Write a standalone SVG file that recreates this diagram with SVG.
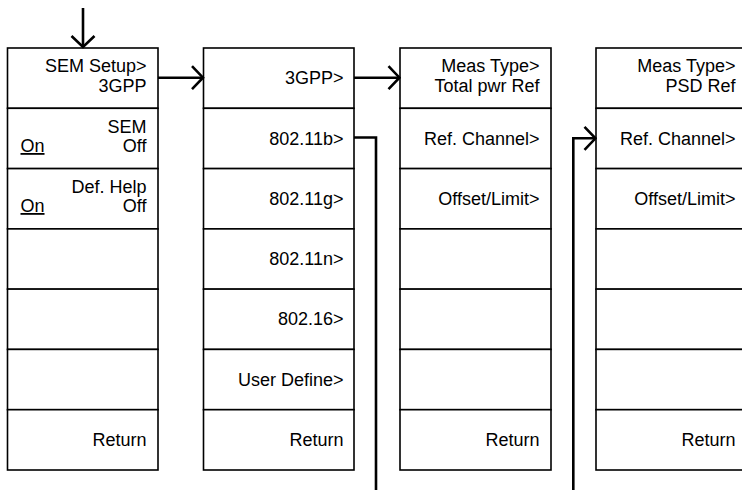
<svg xmlns="http://www.w3.org/2000/svg" width="742" height="490" viewBox="0 0 742 490">
<style>
.box{fill:#fff;stroke:#000;stroke-width:1.6}
.t{font-family:"Liberation Sans",Arial,sans-serif;font-size:18px;fill:#000}
.r{text-anchor:end}
.c{fill:none;stroke:#000;stroke-width:2.6}
</style>
<defs>
<marker id="arr" viewBox="0 0 14 26" refX="12.5" refY="13" markerWidth="14" markerHeight="26" orient="auto" markerUnits="userSpaceOnUse">
<path d="M1.5,1.5 L12.5,13 L1.5,24.5" fill="none" stroke="#000" stroke-width="2.6"/>
</marker>
</defs>
<g id="menu1">
<rect class="box" x="7.5" y="48" width="150.5" height="60.3"/>
<rect class="box" x="7.5" y="108.3" width="150.5" height="60.3"/>
<rect class="box" x="7.5" y="168.6" width="150.5" height="60.3"/>
<rect class="box" x="7.5" y="228.9" width="150.5" height="60.3"/>
<rect class="box" x="7.5" y="289.1" width="150.5" height="60.3"/>
<rect class="box" x="7.5" y="349.4" width="150.5" height="60.3"/>
<rect class="box" x="7.5" y="409.7" width="150.5" height="60.3"/>
<text class="t r" x="146.5" y="71.7">SEM Setup&gt;</text>
<text class="t r" x="146.5" y="92.3">3GPP</text>
<text class="t r" x="146.5" y="133.2">SEM</text>
<text class="t r" x="146.5" y="152">Off</text>
<text class="t" x="20.5" y="152" text-decoration="underline">On</text>
<text class="t r" x="146.5" y="193">Def. Help</text>
<text class="t r" x="146.5" y="212">Off</text>
<text class="t" x="20.5" y="212" text-decoration="underline">On</text>
<text class="t r" x="146.5" y="446">Return</text>
</g>
<g id="menu2">
<rect class="box" x="203.5" y="48" width="150.5" height="60.3"/>
<rect class="box" x="203.5" y="108.3" width="150.5" height="60.3"/>
<rect class="box" x="203.5" y="168.6" width="150.5" height="60.3"/>
<rect class="box" x="203.5" y="228.9" width="150.5" height="60.3"/>
<rect class="box" x="203.5" y="289.1" width="150.5" height="60.3"/>
<rect class="box" x="203.5" y="349.4" width="150.5" height="60.3"/>
<rect class="box" x="203.5" y="409.7" width="150.5" height="60.3"/>
<text class="t r" x="343.5" y="84.3">3GPP&gt;</text>
<text class="t r" x="343.5" y="144.6">802.11b&gt;</text>
<text class="t r" x="343.5" y="204.9">802.11g&gt;</text>
<text class="t r" x="343.5" y="265.1">802.11n&gt;</text>
<text class="t r" x="343.5" y="325.4">802.16&gt;</text>
<text class="t r" x="343.5" y="385.7">User Define&gt;</text>
<text class="t r" x="343.5" y="446">Return</text>
</g>
<g id="menu3">
<rect class="box" x="400" y="48" width="151" height="60.3"/>
<rect class="box" x="400" y="108.3" width="151" height="60.3"/>
<rect class="box" x="400" y="168.6" width="151" height="60.3"/>
<rect class="box" x="400" y="228.9" width="151" height="60.3"/>
<rect class="box" x="400" y="289.1" width="151" height="60.3"/>
<rect class="box" x="400" y="349.4" width="151" height="60.3"/>
<rect class="box" x="400" y="409.7" width="151" height="60.3"/>
<text class="t r" x="539.5" y="71.7">Meas Type&gt;</text>
<text class="t r" x="539.5" y="92.3">Total pwr Ref</text>
<text class="t r" x="539.5" y="144.6">Ref. Channel&gt;</text>
<text class="t r" x="539.5" y="204.9">Offset/Limit&gt;</text>
<text class="t r" x="539.5" y="446">Return</text>
</g>
<g id="menu4">
<rect class="box" x="596" y="48" width="151" height="60.3"/>
<rect class="box" x="596" y="108.3" width="151" height="60.3"/>
<rect class="box" x="596" y="168.6" width="151" height="60.3"/>
<rect class="box" x="596" y="228.9" width="151" height="60.3"/>
<rect class="box" x="596" y="289.1" width="151" height="60.3"/>
<rect class="box" x="596" y="349.4" width="151" height="60.3"/>
<rect class="box" x="596" y="409.7" width="151" height="60.3"/>
<text class="t r" x="735.5" y="71.7">Meas Type&gt;</text>
<text class="t r" x="735.5" y="92.3">PSD Ref</text>
<text class="t r" x="735.5" y="144.6">Ref. Channel&gt;</text>
<text class="t r" x="735.5" y="204.9">Offset/Limit&gt;</text>
<text class="t r" x="735.5" y="446">Return</text>
</g>
<g id="connectors">
<path class="c" d="M83,8 L83,47" marker-end="url(#arr)"/>
<path class="c" d="M158,77.7 L203,77.7" marker-end="url(#arr)"/>
<path class="c" d="M354,77.7 L399.5,77.7" marker-end="url(#arr)"/>
<path class="c" d="M354,137.5 L376,137.5 L376,490"/>
<path class="c" d="M573.3,490 L573.3,138.3 L595.5,138.3" marker-end="url(#arr)"/>
</g>
</svg>
